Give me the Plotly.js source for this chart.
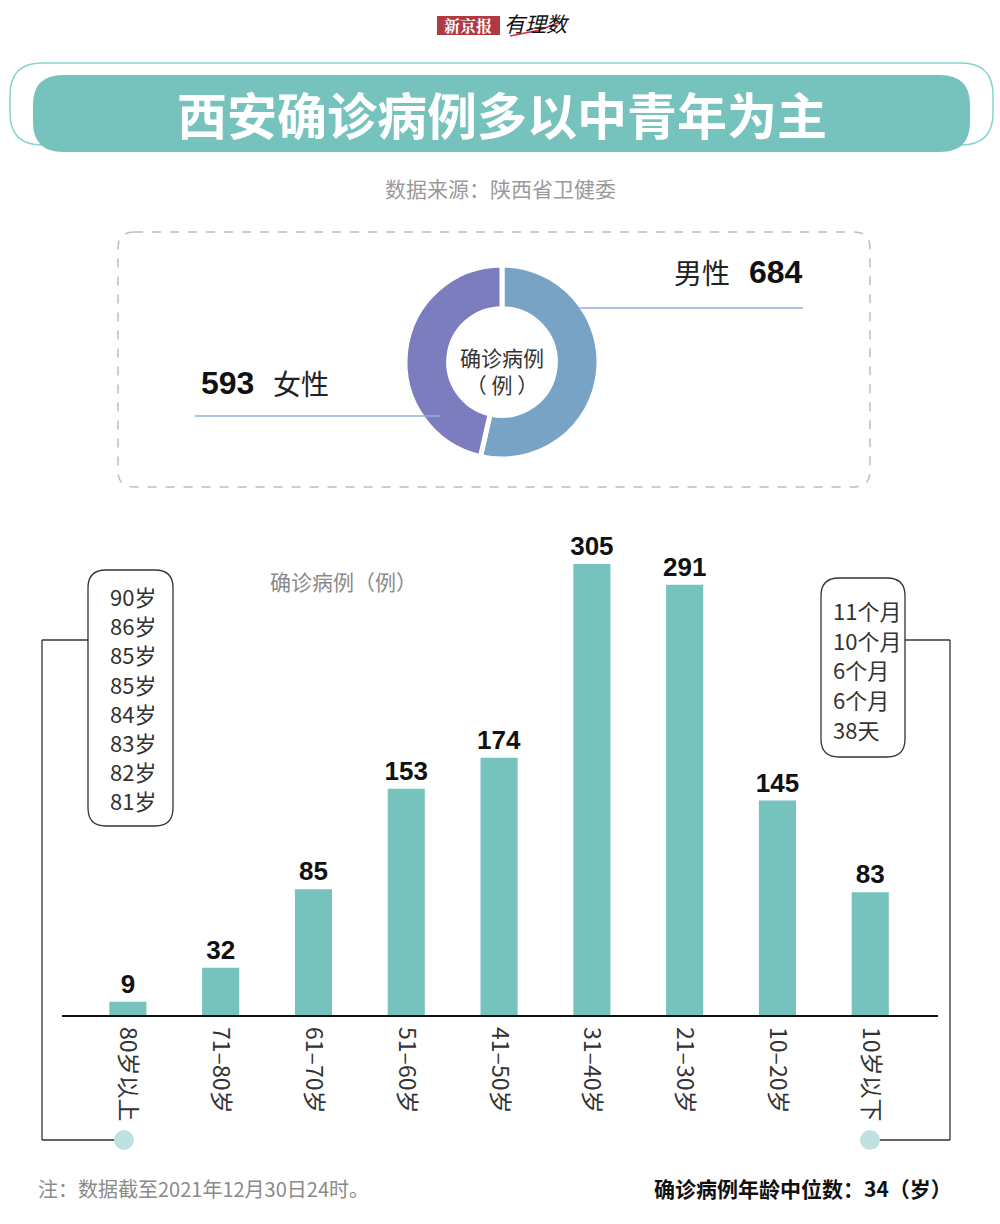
<!DOCTYPE html>
<html>
<head>
<meta charset="utf-8">
<script src="https://cdn.plot.ly/plotly-3.0.1.min.js"></script>
<style>
html,body{margin:0;padding:0;background:#fff;}
#chart{width:1000px;height:1224px;}
</style>
</head>
<body>
<div id="chart"></div>
<script>
// ---------- data ----------
const ageGroups = ['80岁以上','71–80岁','61–70岁','51–60岁','41–50岁','31–40岁','21–30岁','10–20岁','10岁以下'];
const ageCases = [9, 32, 85, 153, 174, 305, 291, 145, 83];
const genderLabels = ['男性','女性'];
const genderCases = [684, 593];
const oldestAges = ['90岁','86岁','85岁','85岁','84岁','83岁','82岁','81岁'];
const youngestAges = ['11个月','10个月','6个月','6个月','38天'];
const titleText = '西安确诊病例多以中青年为主';
const sourceText = '数据来源：陕西省卫健委';
const noteText = '注：数据截至2021年12月30日24时。';
const medianText = '确诊病例年龄中位数：34（岁）';
const centerText = '确诊病例<br>（ 例 ）';
const yTitleText = '确诊病例（例）';

// ---------- helpers ----------
const W = 1000, H = 1224;
const px = x => x / W;
const py = y => 1 - y / H;
const CJK = '"Noto Sans CJK SC", "Noto Sans", sans-serif';
const NUM = '"Liberation Sans", Arial, sans-serif';

function rr(x0, y0, x1, y1, r) {
  const P = (x, y) => px(x).toFixed(5) + ',' + py(y).toFixed(5);
  return 'M' + P(x0 + r, y0) + ' L' + P(x1 - r, y0) + ' Q' + P(x1, y0) + ' ' + P(x1, y0 + r) +
    ' L' + P(x1, y1 - r) + ' Q' + P(x1, y1) + ' ' + P(x1 - r, y1) +
    ' L' + P(x0 + r, y1) + ' Q' + P(x0, y1) + ' ' + P(x0, y1 - r) +
    ' L' + P(x0, y0 + r) + ' Q' + P(x0, y0) + ' ' + P(x0 + r, y0) + ' Z';
}
function line(x0, y0, x1, y1, color, width, layer) {
  return {type:'line', xref:'paper', yref:'paper', x0:px(x0), y0:py(y0), x1:px(x1), y1:py(y1),
    line:{color:color, width:width}, layer:layer || 'above'};
}
function circle(cx, cy, r, color) {
  return {type:'circle', xref:'paper', yref:'paper', x0:px(cx - r), x1:px(cx + r), y0:py(cy + r), y1:py(cy - r),
    fillcolor:color, line:{width:0}, layer:'above'};
}
function txt(x, y, text, size, color, opts) {
  return Object.assign({xref:'paper', yref:'paper', x:px(x), y:py(y), text:text, showarrow:false,
    xanchor:'center', yanchor:'middle', font:{family:CJK, size:size, color:color}}, opts || {});
}

// ---------- traces ----------
const bars = {
  type:'bar', x:ageGroups, y:ageCases, width:0.4,
  marker:{color:'#76C2BC'},
  text:ageCases.map(String), textposition:'outside', cliponaxis:false, constraintext:'none',
  textfont:{family:NUM, size:26, color:'#111', weight:'bold'},
  hoverinfo:'skip', xaxis:'x', yaxis:'y'
};
const donut = {
  type:'pie', labels:genderLabels, values:genderCases, hole:0.55, sort:false,
  direction:'clockwise', rotation:0, textinfo:'none', hoverinfo:'skip', showlegend:false,
  marker:{colors:['#79A3C5','#7C7DBF'], line:{color:'#fff', width:5}},
  domain:{x:[px(405), px(599)], y:[py(459), py(265)]}
};

// ---------- shapes ----------
const shapes = [
  {type:'path', xref:'paper', yref:'paper', path:rr(10, 63, 993, 145, 32), line:{color:'#8AD3CF', width:1.5}, fillcolor:'rgba(0,0,0,0)', layer:'below'},
  {type:'path', xref:'paper', yref:'paper', path:rr(33, 75, 970, 152, 30), line:{width:0}, fillcolor:'#76C2BC', layer:'below'},
  {type:'rect', xref:'paper', yref:'paper', x0:px(437), x1:px(500), y0:py(35), y1:py(16), fillcolor:'#B03A40', line:{width:0}},
  line(510, 36, 540, 30, '#D0303A', 1.5),
  line(540, 30, 560, 22, '#D0303A', 1.5),
  {type:'path', xref:'paper', yref:'paper', path:rr(118, 232, 870, 487, 16), line:{color:'#BDBDBD', width:1.5, dash:'dash'}, fillcolor:'rgba(0,0,0,0)', layer:'below'},
  line(580, 308, 803, 308, '#8FB0DA', 1.6),
  line(195, 416, 440, 416, '#8FB0DA', 1.6),
  {type:'path', xref:'paper', yref:'paper', path:rr(88, 570, 173, 826, 18), line:{color:'#333', width:1.3}, fillcolor:'#fff', layer:'above'},
  line(88, 640, 42, 640, '#333', 1.3),
  line(42, 640, 42, 1140, '#333', 1.3),
  line(42, 1140, 116, 1140, '#333', 1.3),
  circle(124, 1140, 10, '#BFE2E0'),
  {type:'path', xref:'paper', yref:'paper', path:rr(821, 578, 905, 757, 18), line:{color:'#333', width:1.3}, fillcolor:'#fff', layer:'above'},
  line(905, 640, 950, 640, '#333', 1.3),
  line(950, 640, 950, 1140, '#333', 1.3),
  line(950, 1140, 878, 1140, '#333', 1.3),
  circle(870, 1140, 10, '#BFE2E0')
];

// ---------- annotations ----------
const annotations = [
  txt(468, 25, '新京报', 16, '#fff', {font:{family:'"Noto Serif CJK SC", "Noto Sans CJK SC", serif', size:16, color:'#fff', weight:'bold'}}),
  txt(537, 23, '<i>有理数</i>', 21, '#111'),
  txt(502, 113, titleText, 50, '#fff', {font:{family:CJK, size:50, color:'#fff', weight:'bold'}}),
  txt(500, 188, sourceText, 21, '#9A9A9A'),
  txt(672, 272, genderLabels[0], 28, '#222', {xanchor:'left'}),
  txt(747, 272, String(genderCases[0]), 32, '#111', {xanchor:'left', font:{family:NUM, size:32, color:'#111', weight:'bold'}}),
  txt(199, 383, String(genderCases[1]), 32, '#111', {xanchor:'left', font:{family:NUM, size:32, color:'#111', weight:'bold'}}),
  txt(271, 383, genderLabels[1], 28, '#222', {xanchor:'left'}),
  txt(502, 370, centerText, 21, '#333'),
  txt(268, 581, yTitleText, 21, '#8A8A8A', {xanchor:'left'}),
  txt(36, 1188, noteText, 20, '#8A8A8A', {xanchor:'left'}),
  txt(954, 1188, medianText, 21, '#111', {xanchor:'right', font:{family:CJK, size:21, color:'#111', weight:'bold'}})
];
oldestAges.forEach((t, i) => annotations.push(txt(108, 596 + i * 29.2, t, 22, '#333', {xanchor:'left'})));
youngestAges.forEach((t, i) => annotations.push(txt(831, 610 + i * 29.7, t, 22, '#333', {xanchor:'left'})));

// ---------- layout ----------
const layout = {
  width:W, height:H, margin:{l:0, r:0, t:0, b:0},
  paper_bgcolor:'#fff', plot_bgcolor:'#fff', showlegend:false,
  xaxis:{domain:[px(62), px(938)], range:[-0.71, 8.73], type:'category',
    showline:true, linecolor:'#111', linewidth:1.5, showgrid:false, zeroline:false,
    ticks:'', tickangle:90, ticklabelstandoff:6, tickfont:{family:CJK, size:23, color:'#333'}, fixedrange:true},
  yaxis:{domain:[py(1015), py(530)], range:[0, 328], visible:false, showgrid:false, zeroline:false, fixedrange:true},
  shapes:shapes, annotations:annotations,
  font:{family:CJK}
};

Plotly.newPlot('chart', [bars, donut], layout, {staticPlot:true, displayModeBar:false});
</script>
</body>
</html>
